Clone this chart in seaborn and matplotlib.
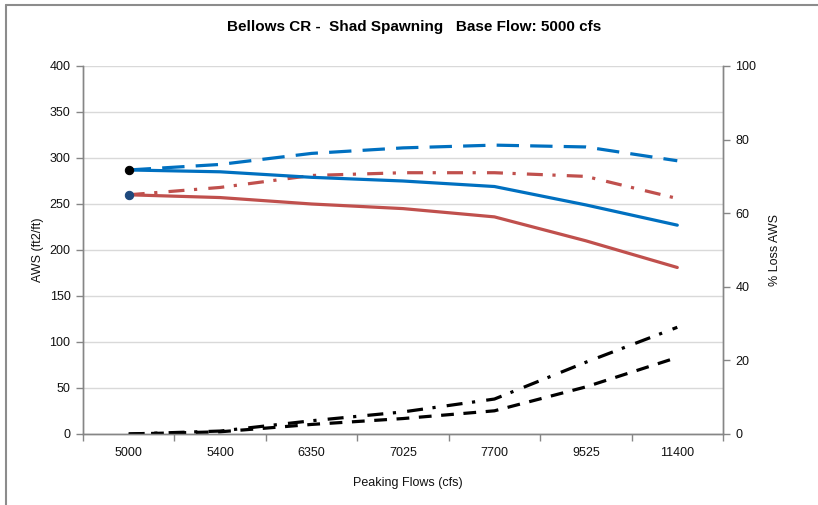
import seaborn as sns
import matplotlib
matplotlib.use("Agg")
import matplotlib.pyplot as plt
from matplotlib.lines import Line2D

# peaking flow categories (cfs)
flows = ["5000", "5400", "6350", "7025", "7700", "9525", "11400"]

# AWS (ft2/ft), left axis
aws_blue = [287, 285, 279, 275, 269, 249, 227]
aws_blue_dash = [287, 293, 305, 311, 314, 312, 297]
aws_red = [260, 257, 250, 245, 236, 210, 181]
aws_red_dashdot = [260, 268, 281, 284, 284, 280, 256]

# % loss AWS, right axis
loss_dashdot = [0, 0.8, 3.6, 6.0, 9.5, 19.5, 29]
loss_dash = [0, 0.6, 2.6, 4.2, 6.3, 12.8, 20.8]

left_ticks = list(range(0, 401, 50))
right_ticks = list(range(0, 101, 20))

sns.set_theme(style="white")
plt.rcParams['font.family'] = ['Liberation Sans', 'DejaVu Sans']

blue = "#0070C0"
red = "#C0504D"
axis_gray = "#868686"

fig = plt.figure(figsize=(8.18, 5.05), dpi=100)
ax = fig.add_axes([83 / 818, 1 - 434 / 505, 640 / 818, 368 / 505])
ax2 = ax.twinx()

lw = 2.3

sns.lineplot(x=flows, y=aws_blue_dash, ax=ax, color=blue, linewidth=lw, sort=False)
ax.lines[-1].set_dashes([7, 3.5])
sns.lineplot(x=flows, y=aws_red_dashdot, ax=ax, color=red, linewidth=lw, sort=False)
ax.lines[-1].set_dashes([5, 3, 1, 3.5])
sns.lineplot(x=flows, y=aws_red, ax=ax, color=red, linewidth=lw, sort=False)
l = ax.lines[-1]
l.set_marker("o"); l.set_markevery([0]); l.set_markersize(6)
l.set_markerfacecolor("#1F497D"); l.set_markeredgecolor("#1F497D")
sns.lineplot(x=flows, y=aws_blue, ax=ax, color=blue, linewidth=lw, sort=False)
l = ax.lines[-1]
l.set_marker("o"); l.set_markevery([0]); l.set_markersize(6)
l.set_markerfacecolor("black"); l.set_markeredgecolor("black")

sns.lineplot(x=flows, y=loss_dashdot, ax=ax2, color="black", linewidth=lw, sort=False)
ax2.lines[-1].set_dashes([5, 3, 1, 3.5])
sns.lineplot(x=flows, y=loss_dash, ax=ax2, color="black", linewidth=lw, sort=False)
ax2.lines[-1].set_dashes([4, 3])

for l in ax.lines + ax2.lines:
    l.set_solid_capstyle("round")
    l.set_solid_joinstyle("round")
    l.set_dash_capstyle("butt")

ax.set_ylim(0, 400)
ax2.set_ylim(0, 100)
ax.set_xlim(-0.5, 6.5)
ax.set_yticks(left_ticks)
ax2.set_yticks(right_ticks)
ax.set_xticks(range(len(flows)))
ax.set_xticklabels(flows)
ax.set_xticks([i - 0.5 for i in range(len(flows) + 1)], minor=True)

ax.yaxis.grid(True, color="#d9d9d9", linewidth=1)
ax.set_axisbelow(True)

for a in (ax, ax2):
    for s in a.spines.values():
        s.set_color(axis_gray)
        s.set_linewidth(1)
    a.spines["top"].set_visible(False)
    a.set_xlabel("")
    a.set_ylabel("")

ax.tick_params(axis="y", which="major", length=5, width=1, color=axis_gray,
               labelsize=9, labelcolor="#111111", pad=4, left=True)
ax2.tick_params(axis="y", length=5, width=1, color=axis_gray, labelsize=9,
                labelcolor="#111111", pad=4, right=True)
ax.tick_params(axis="x", which="major", length=0, labelsize=9, labelcolor="#111111", pad=9)
ax.tick_params(axis="x", which="minor", length=5, width=1, color=axis_gray, bottom=True)

fig.text(414 / 818, 1 - 27 / 505, "Bellows CR -  Shad Spawning   Base Flow: 5000 cfs",
         ha="center", va="center", fontsize=11, fontweight="bold", color="black")
fig.text(408 / 818, 1 - 483 / 505, "Peaking Flows (cfs)", ha="center", va="center",
         fontsize=9, color="#111111")
fig.text(38 / 818, 1 - 250 / 505, "AWS (ft2/ft)", ha="center", va="center",
         rotation=90, fontsize=9, color="#111111")
fig.text(775 / 818, 1 - 250 / 505, "% Loss AWS", ha="center", va="center",
         rotation=90, fontsize=9, color="#111111")

# outer chart frame (left and top edges visible)
fig.add_artist(Line2D([6 / 818, 6 / 818], [0, 1 - 5 / 505], color="#8c8c8c",
                      linewidth=1.5, transform=fig.transFigure))
fig.add_artist(Line2D([6 / 818, 1], [1 - 5 / 505, 1 - 5 / 505], color="#8c8c8c",
                      linewidth=1.5, transform=fig.transFigure))

fig.savefig("out.png", dpi=100, facecolor="white")
